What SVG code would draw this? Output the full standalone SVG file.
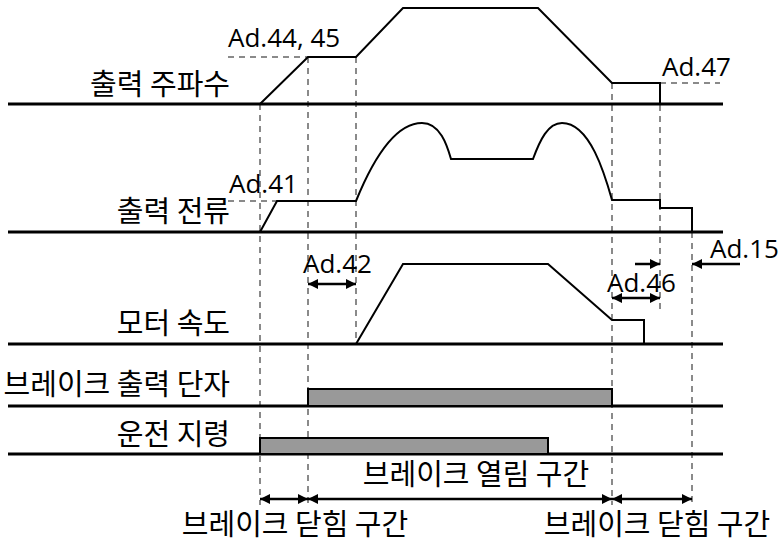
<svg xmlns="http://www.w3.org/2000/svg" width="780" height="543" viewBox="0 0 780 543">
<defs>
<style>
.base{stroke:#000;stroke-width:3;fill:none}
.wave{stroke:#000;stroke-width:2;fill:none;stroke-linejoin:miter}
.dash{stroke:#8a8a8a;stroke-width:2;stroke-dasharray:6 5;fill:none}
.bar{fill:#999;stroke:#000;stroke-width:2}
.lbl{font-family:"Noto Sans CJK KR","Noto Sans",sans-serif;font-size:29px;fill:#000}
.ad{font-family:"Open Sans","Noto Sans",sans-serif;font-size:26px;fill:#000}
.arr{stroke:#000;stroke-width:2.5;fill:none}
</style>
<marker id="ah" viewBox="0 0 10 10" refX="10" refY="5" markerWidth="11" markerHeight="10" markerUnits="userSpaceOnUse" orient="auto-start-reverse">
<path d="M0,0 L10,5 L0,10 Z" fill="#000"/>
</marker>
</defs>
<rect width="780" height="543" fill="#fff"/>

<g id="guides">
<line class="dash" x1="260" y1="104" x2="260" y2="505"/>
<line class="dash" x1="308" y1="57" x2="308" y2="505"/>
<line class="dash" x1="356" y1="57" x2="356" y2="344"/>
<line class="dash" x1="612" y1="83" x2="612" y2="505"/>
<line class="dash" x1="660" y1="83" x2="660" y2="312"/>
<line class="dash" x1="692" y1="232" x2="692" y2="505"/>
<line class="dash" x1="228" y1="57" x2="308" y2="57"/>
<line class="dash" x1="660" y1="83" x2="720" y2="83"/>
<line class="dash" x1="228" y1="201" x2="277" y2="201"/>
</g>

<g id="freq">
<line class="base" x1="8" y1="104" x2="723" y2="104"/>
<path class="wave" d="M260,104 L308,57 L356,57 L403,8 L538,8 L612,83 L660,83 L660,104"/>
<text class="lbl" x="230" y="95" text-anchor="end">출력 주파수</text>
<text class="ad" x="228" y="47">Ad.44, 45</text>
<text class="ad" x="662" y="76">Ad.47</text>
</g>

<g id="current">
<line class="base" x1="8" y1="232" x2="723" y2="232"/>
<path class="wave" d="M260,232 L277,201 L356,201 C376,152 398,123 422,123 C440,123 447,145 451,159 L533,159 C540,140 548,123 562,123 C590,123 605,175 612,200 L660,200 L660,208 L692,208 L692,232"/>
<text class="lbl" x="230" y="222" text-anchor="end">출력 전류</text>
<text class="ad" x="229" y="193">Ad.41</text>
</g>

<g id="speed">
<line class="base" x1="8" y1="344" x2="723" y2="344"/>
<path class="wave" d="M356,344 L403,264 L548,264 L612,320 L644,320 L644,344"/>
<text class="lbl" x="230" y="334" text-anchor="end">모터 속도</text>
<text class="ad" x="303" y="273">Ad.42</text>
<text class="ad" x="607" y="292">Ad.46</text>
<text class="ad" x="710" y="258">Ad.15</text>
</g>

<g id="brake">
<line class="base" x1="8" y1="406" x2="723" y2="406"/>
<rect class="bar" x="308" y="389" width="304" height="17"/>
<text class="lbl" x="230" y="395" text-anchor="end">브레이크 출력 단자</text>
</g>

<g id="run">
<line class="base" x1="8" y1="454" x2="723" y2="454"/>
<rect class="bar" x="260" y="438" width="288" height="16"/>
<text class="lbl" x="230" y="445" text-anchor="end">운전 지령</text>
</g>

<g id="connectors">
<line class="arr" x1="308" y1="284" x2="356" y2="284" marker-start="url(#ah)" marker-end="url(#ah)"/>
<line class="arr" x1="612" y1="298" x2="660" y2="298" marker-start="url(#ah)" marker-end="url(#ah)"/>
<line class="arr" x1="635" y1="264" x2="660" y2="264" marker-end="url(#ah)"/>
<line class="arr" x1="740" y1="264" x2="692" y2="264" marker-end="url(#ah)"/>
<line class="arr" x1="260" y1="499" x2="308" y2="499" marker-start="url(#ah)" marker-end="url(#ah)"/>
<line class="arr" x1="308" y1="499" x2="612" y2="499" marker-start="url(#ah)" marker-end="url(#ah)"/>
<line class="arr" x1="612" y1="499" x2="692" y2="499" marker-start="url(#ah)" marker-end="url(#ah)"/>
</g>

<g id="periods">
<text class="lbl" x="476" y="485" text-anchor="middle">브레이크 열림 구간</text>
<text class="lbl" x="295" y="535" text-anchor="middle">브레이크 닫힘 구간</text>
<text class="lbl" x="657" y="535" text-anchor="middle">브레이크 닫힘 구간</text>
</g>
</svg>
